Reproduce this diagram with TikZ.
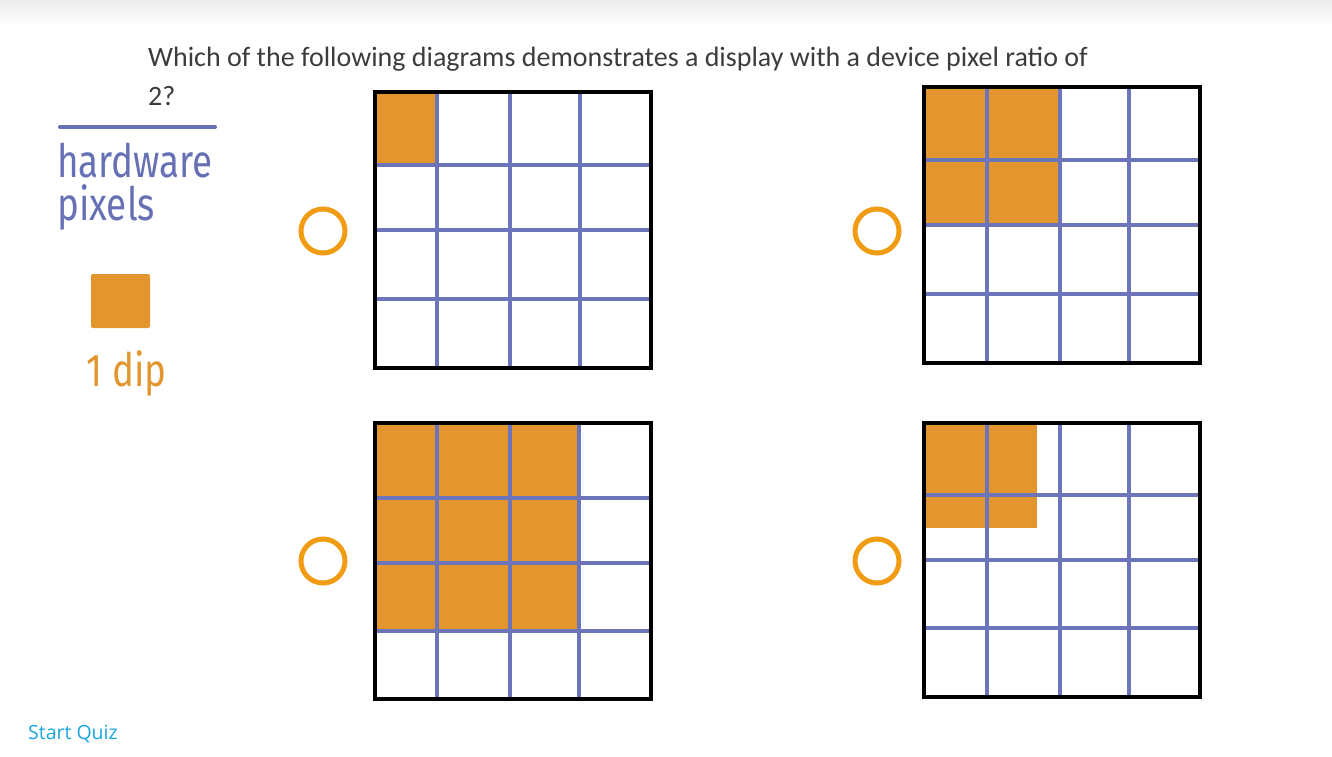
\documentclass[tikz,border=0pt]{standalone}
\usepackage{fontspec}
\setmainfont{Carlito}
\newfontfamily\quizfont{Open Sans}
\newfontfamily\handfont{Fira Sans}
\usepackage{tikz}
\usetikzlibrary{positioning}
\usepackage{xcolor}
\definecolor{pixblue}{HTML}{6C75B9}
\definecolor{inkblue}{HTML}{6670B4}
\definecolor{diporange}{HTML}{E3952E}
\definecolor{radioorange}{HTML}{F29C14}
\definecolor{quizblue}{HTML}{1AA7DE}
\definecolor{textgray}{HTML}{3C3C3C}
\definecolor{shadegray}{HTML}{EBEBEB}

\begin{document}
\begin{tikzpicture}[
    x=1pt, y=-1pt,
    gridline/.style={draw=pixblue, line width=4pt},
    frame/.style={draw=black, line width=4.5pt},
    dipfill/.style={fill=diporange},
    radio/.style={circle, draw=radioorange, line width=5pt, minimum size=44pt, inner sep=0pt},
    question/.style={anchor=base west, inner sep=0pt, text=textgray, font=\fontsize{28}{32}\selectfont},
    hand/.style={anchor=base west, inner sep=0pt, font=\handfont\fontsize{46}{50}\selectfont},
]
\useasboundingbox (0,0) rectangle (1332,756);
\shade[top color=shadegray, bottom color=white] (0,0) rectangle (1332,26);

\node[question] (question) at (148,66) {Which of the following diagrams demonstrates a display with a device pixel ratio of};
\node[question] (ratio) at (148,105) {2?};

\draw[inkblue, line width=4pt, line cap=round] (60,127) -- (215,127);
\node[hand, text=inkblue] (hw) at (57,177) {\scalebox{0.8}[1]{hardware}};
\node[hand, text=inkblue, below=7pt of hw.south west, anchor=north west] (px) {\scalebox{0.8}[1]{pixels}};
\node[dipfill, rounded corners=2pt, minimum width=59pt, minimum height=54pt, inner sep=0pt] (dip) at (120.5,301) {};
\node[hand, text=diporange, below=22pt of dip, anchor=north, xshift=6pt] (diplabel) {\scalebox{0.8}[1]{1 dip}};

\node[radio] (optA) at (323,231) {};
\node[radio] (optB) at (877,231) {};
\node[radio] (optC) at (323,561) {};
\node[radio] (optD) at (877,561) {};

\fill[dipfill] (375,92) rectangle (436,165);
\draw[gridline] (437,92) -- (437,368) (510,92) -- (510,368) (580,92) -- (580,368);
\draw[gridline] (375,165) -- (651,165) (375,230) -- (651,230) (375,299) -- (651,299);
\draw[frame] (375,92) rectangle (651,368);

\fill[dipfill] (924,87) rectangle (1059,225);
\draw[gridline] (987,87) -- (987,363) (1060,87) -- (1060,363) (1129,87) -- (1129,363);
\draw[gridline] (924,160) -- (1200,160) (924,225) -- (1200,225) (924,294) -- (1200,294);
\draw[frame] (924,87) rectangle (1200,363);

\fill[dipfill] (375,423) rectangle (578,631);
\draw[gridline] (437,423) -- (437,699) (510,423) -- (510,699) (579,423) -- (579,699);
\draw[gridline] (375,498) -- (651,498) (375,563) -- (651,563) (375,631) -- (651,631);
\draw[frame] (375,423) rectangle (651,699);

\fill[dipfill] (924,423) rectangle (1037,528);
\draw[gridline] (987,423) -- (987,697) (1060,423) -- (1060,697) (1129,423) -- (1129,697);
\draw[gridline] (924,495) -- (1200,495) (924,560) -- (1200,560) (924,628) -- (1200,628);
\draw[frame] (924,423) rectangle (1200,697);

\node[anchor=base west, inner sep=0pt, text=quizblue, font=\quizfont\fontsize{19.5}{22}\selectfont] (start) at (28,739) {Start Quiz};
\end{tikzpicture}
\end{document}
